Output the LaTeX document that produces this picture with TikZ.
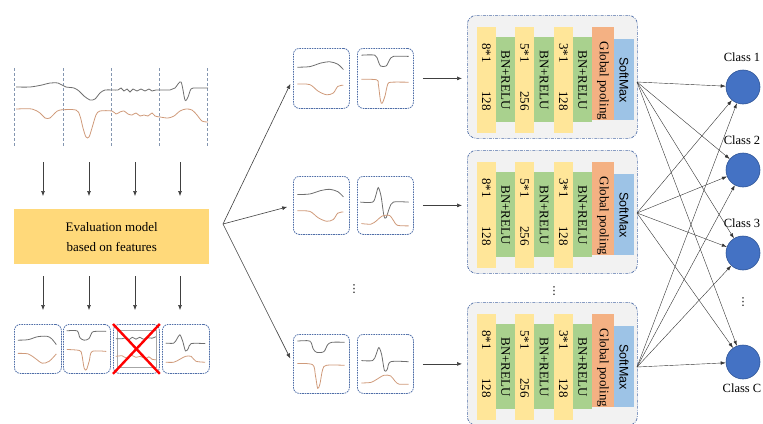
\documentclass[tikz,border=0pt]{standalone}
\usepackage{fontspec}
\setmainfont{Liberation Serif}
\newfontfamily\sansf{Liberation Sans}
\newfontfamily\dvs{DejaVu Sans}
\usetikzlibrary{arrows.meta}
\definecolor{sigk}{HTML}{6E6E6E}
\definecolor{sigbr}{HTML}{CF9A7A}
\definecolor{bord}{HTML}{4F6EA8}
\definecolor{vline}{HTML}{8496B0}
\definecolor{evalc}{HTML}{FFD97A}
\definecolor{ybar}{HTML}{FFE699}
\definecolor{gbar}{HTML}{A9D18E}
\definecolor{obar}{HTML}{F4B183}
\definecolor{bbar}{HTML}{9DC3E6}
\definecolor{cnnbg}{HTML}{F2F2F2}
\definecolor{circ}{HTML}{4472C4}
\definecolor{circb}{HTML}{2F5597}
\tikzset{
  arr/.style={draw=black!75, line width=0.6pt, -{Latex[length=5pt,width=4pt]}},
  carr/.style={draw=black!80, line width=0.4pt, -{Latex[length=5pt,width=3.5pt]}},
  sbx/.style={draw=bord, line width=0.8pt, dash pattern=on 1.6pt off 0.9pt, rounded corners=6pt, inner sep=0pt},
  cnnbox/.style={draw=bord, fill=cnnbg, line width=0.7pt, dash pattern=on 3pt off 1.2pt on 0.8pt off 1.2pt, rounded corners=9pt, inner sep=0pt},
  barb/.style={inner sep=0pt, anchor=north west, draw=none},
  rt/.style={rotate=-90, inner sep=0pt, font=\fontsize{13}{13}\selectfont},
  sigg/.style={draw=sigk, line width=0.8pt},
  sigb/.style={draw=sigbr, line width=0.8pt},
  cls/.style={circle, fill=circ, draw=circb, line width=0.6pt, minimum size=34pt, inner sep=0pt},
  clab/.style={font=\fontsize{12.5}{12.5}\selectfont, inner sep=0pt},
  vdt/.style={font=\dvs\fontsize{11}{11}\selectfont, inner sep=0pt},
}
\newcommand\mkbox[5]{\node[sbx, anchor=north west, minimum width={#4-#2}, minimum height={#5-#3}] (#1) at (#2,#3) {};}
\newcommand\sigpair[6]{%
  \begin{scope}[shift={(#1,#2)}, xscale={#3-#1}, yscale={#4-#2}]
    \draw[sigg] plot[smooth, tension=0.5] coordinates {#5};
    \draw[sigb] plot[smooth, tension=0.5] coordinates {#6};
  \end{scope}}
\newcommand\cnnblock[2]{%
  \begin{scope}[shift={(0,#2)}]
    \node[cnnbox, anchor=north west, minimum width=170, minimum height=123] (#1) at (467,0) {};
    \node[barb, fill=ybar, minimum width=19, minimum height=106] (#1y1) at (477,12) {};
    \node[barb, fill=gbar, minimum width=19, minimum height=85] (#1g1) at (496,22) {};
    \node[barb, fill=ybar, minimum width=19, minimum height=106] (#1y2) at (515,12) {};
    \node[barb, fill=gbar, minimum width=20, minimum height=85] (#1g2) at (534,22) {};
    \node[barb, fill=ybar, minimum width=19, minimum height=106] (#1y3) at (554,12) {};
    \node[barb, fill=gbar, minimum width=19, minimum height=85] (#1g3) at (573,22) {};
    \node[barb, fill=obar, minimum width=22, minimum height=93] (#1o) at (592,12) {};
    \node[barb, fill=bbar, minimum width=20, minimum height=81] (#1b) at (614,24) {};
    \node[rt] (#1t1) at (486.5,38) {8*1};
    \node[rt] (#1t2) at (486.5,86) {128};
    \node[rt] (#1t3) at (505.5,65) {BN+RELU};
    \node[rt] (#1t4) at (524.5,38) {5*1};
    \node[rt] (#1t5) at (524.5,86) {256};
    \node[rt] (#1t6) at (544,65) {BN+RELU};
    \node[rt] (#1t7) at (563.5,38) {3*1};
    \node[rt] (#1t8) at (563.5,86) {128};
    \node[rt] (#1t9) at (582.5,65) {BN+RELU};
    \node[rt] (#1t10) at (603,66) {Global pooling};
    \node[rt, font=\sansf\fontsize{12.5}{12.5}\selectfont] (#1t11) at (624,65) {SoftMax};
  \end{scope}}
\begin{document}
\begin{tikzpicture}[x=1pt,y=-1pt]
\useasboundingbox (0,0) rectangle (763,423);

% ---- top-left raw signal with segment lines
\foreach \xx in {14,63,111,159,207}
  \draw[vline, line width=0.6pt, dash pattern=on 3pt off 2pt] (\xx,68) -- (\xx,147);
\draw[sigg] plot[smooth, tension=0.5] coordinates {(16,87) (30,87) (42,85) (50,83) (58,83) (62,85) (66,87) (74,88) (79,91) (84,96) (90,100) (95,99) (100,93) (105,90) (112,90) (118,90) (121,88) (124,91) (127,89) (130,92) (133,89) (137,91) (141,89) (145,91) (149,89) (152,91) (156,90) (170,90) (175,88) (181,82) (185,100) (188,97) (191,89) (196,88) (208,88)};
\draw[sigb] plot[smooth, tension=0.5] coordinates {(16,109) (32,109) (40,113) (45,118) (50,118) (55,113) (60,110) (76,110) (80,116) (83,128) (86,137) (89,137) (92,128) (96,115) (100,111) (112,111) (116,114) (120,112) (124,111) (128,114) (132,115) (136,113) (140,116) (144,115) (148,116) (152,113) (155,116) (160,117) (168,118) (174,116) (180,111) (186,109) (192,110) (197,115) (202,121) (208,122)};

% ---- evaluation box
\node[fill=evalc, anchor=north west, minimum width=195, minimum height=55, inner sep=0pt, align=center, font=\fontsize{13}{20}\selectfont] (eval) at (14,209) {Evaluation model\\based on features};

\foreach \xx [count=\i] in {43,89,135,180} {
  \coordinate (u\i) at (\xx,162);
  \coordinate (v\i) at (\xx,276);
  \draw[arr] (u\i) -- ++(0,34);
  \draw[arr] (v\i) -- ++(0,34);
}

% ---- bottom-left segment boxes
\mkbox{bl1}{14}{324}{61}{373}
\mkbox{bl2}{63}{324}{110}{373}
\mkbox{bl3}{113}{324}{159}{373}
\mkbox{bl4}{162}{324}{209}{373}
\sigpair{14}{324}{61}{373}{(0.08,0.33)(0.3,0.32)(0.5,0.26)(0.7,0.25)(0.8,0.3)(0.9,0.42)}{(0.08,0.6)(0.3,0.61)(0.45,0.7)(0.6,0.8)(0.75,0.76)(0.9,0.61)}
\sigpair{63}{324}{110}{373}{(0.08,0.14)(0.3,0.14)(0.36,0.28)(0.45,0.33)(0.55,0.3)(0.62,0.17)(0.7,0.15)(0.92,0.15)}{(0.08,0.52)(0.35,0.54)(0.4,0.62)(0.45,0.9)(0.5,0.93)(0.56,0.75)(0.62,0.56)(0.92,0.56)}
\draw[black!35, line width=0.6pt] (117,330) rectangle (156,367);
\sigpair{113}{324}{159}{373}{(0.06,0.3)(0.2,0.3)(0.28,0.28)(0.35,0.32)(0.42,0.27)(0.5,0.31)(0.58,0.27)(0.66,0.31)(0.75,0.28)(0.85,0.29)(0.93,0.26)}{(0.06,0.66)(0.2,0.65)(0.3,0.7)(0.4,0.64)(0.5,0.68)(0.6,0.66)(0.7,0.71)(0.78,0.67)(0.85,0.72)(0.93,0.73)}
\draw[red, line width=2.4pt] (bl3.north west) -- (bl3.south east);
\draw[red, line width=2.4pt] (bl3.north east) -- (bl3.south west);
\sigpair{162}{324}{209}{373}{(0.08,0.39)(0.25,0.39)(0.32,0.3)(0.38,0.22)(0.44,0.35)(0.5,0.55)(0.56,0.5)(0.62,0.4)(0.92,0.4)}{(0.08,0.78)(0.25,0.78)(0.38,0.72)(0.5,0.66)(0.62,0.66)(0.72,0.76)(0.92,0.78)}

% ---- middle sample boxes
\mkbox{m11}{293}{48}{349}{108}
\mkbox{m12}{357}{48}{413}{108}
\mkbox{m21}{293}{176}{349}{234}
\mkbox{m22}{357}{176}{413}{234}
\mkbox{m31}{293}{334}{349}{393}
\mkbox{m32}{357}{334}{413}{393}
\sigpair{293}{48}{349}{108}{(0.08,0.32)(0.3,0.31)(0.5,0.25)(0.66,0.23)(0.8,0.27)(0.9,0.36)}{(0.08,0.6)(0.3,0.61)(0.45,0.72)(0.6,0.78)(0.72,0.75)(0.8,0.64)(0.9,0.62)}
\sigpair{357}{48}{413}{108}{(0.08,0.12)(0.32,0.12)(0.38,0.22)(0.42,0.3)(0.52,0.3)(0.58,0.2)(0.65,0.14)(0.92,0.14)}{(0.08,0.52)(0.35,0.53)(0.38,0.6)(0.42,0.88)(0.45,0.92)(0.5,0.8)(0.55,0.6)(0.62,0.57)(0.92,0.57)}
\sigpair{293}{176}{349}{234}{(0.08,0.32)(0.3,0.31)(0.5,0.25)(0.66,0.23)(0.8,0.27)(0.9,0.36)}{(0.08,0.6)(0.3,0.61)(0.45,0.72)(0.6,0.78)(0.72,0.75)(0.8,0.64)(0.9,0.62)}
\sigpair{357}{176}{413}{234}{(0.06,0.45)(0.28,0.45)(0.34,0.32)(0.38,0.2)(0.43,0.35)(0.48,0.68)(0.52,0.72)(0.58,0.55)(0.65,0.45)(0.92,0.45)}{(0.08,0.82)(0.25,0.83)(0.35,0.77)(0.45,0.69)(0.58,0.68)(0.66,0.78)(0.72,0.85)(0.92,0.86)}
\sigpair{293}{334}{349}{393}{(0.08,0.12)(0.3,0.12)(0.36,0.25)(0.42,0.31)(0.55,0.3)(0.62,0.18)(0.7,0.14)(0.92,0.14)}{(0.08,0.5)(0.35,0.52)(0.4,0.7)(0.44,0.92)(0.48,0.85)(0.53,0.6)(0.6,0.53)(0.92,0.53)}
\sigpair{357}{334}{413}{393}{(0.08,0.45)(0.28,0.45)(0.34,0.35)(0.39,0.23)(0.44,0.35)(0.49,0.62)(0.54,0.6)(0.6,0.47)(0.92,0.47)}{(0.08,0.83)(0.25,0.82)(0.35,0.77)(0.48,0.7)(0.6,0.71)(0.68,0.8)(0.75,0.85)(0.92,0.85)}
\node[vdt] (dm) at (354,289) {⋮};

% ---- fan
\coordinate (fan) at (223,224);
\draw[arr, shorten >=6pt] (fan) -- (m11.west);
\draw[arr, shorten >=6pt] (fan) -- (m21.west);
\draw[arr, shorten >=6pt] (fan) -- (m31.west);

% ---- CNN blocks
\cnnblock{c1}{15}
\cnnblock{c2}{150}
\cnnblock{c3}{302}
\node[vdt] (dc) at (554,291) {⋮};

\draw[arr, shorten <=9pt, shorten >=5pt] (m12.east) -- (m12.east -| c1.west);
\draw[arr, shorten <=9pt, shorten >=5pt] (m22.east) -- (m22.east -| c2.west);
\draw[arr, shorten <=9pt, shorten >=5pt] (m32.east) -- (m32.east -| c3.west);

% ---- classes
\node[cls] (k1) at (743,87) {};
\node[cls] (k2) at (743,170) {};
\node[cls] (k3) at (743,253) {};
\node[cls] (k4) at (743,362) {};
\node[clab] (l1) at (742,57) {Class 1};
\node[clab] (l2) at (742,140) {Class 2};
\node[clab] (l3) at (742,223) {Class 3};
\node[vdt] (dk) at (743,302) {⋮};
\node[clab] (l4) at (742,388) {Class C};

\coordinate (s1) at (637,82);
\coordinate (s2) at (637,213);
\coordinate (s3) at (637,367);
\foreach \s in {s1,s2,s3}
  \foreach \k in {k1,k2,k3,k4}
    \draw[carr] (\s) -- (\k);
\end{tikzpicture}
\end{document}
